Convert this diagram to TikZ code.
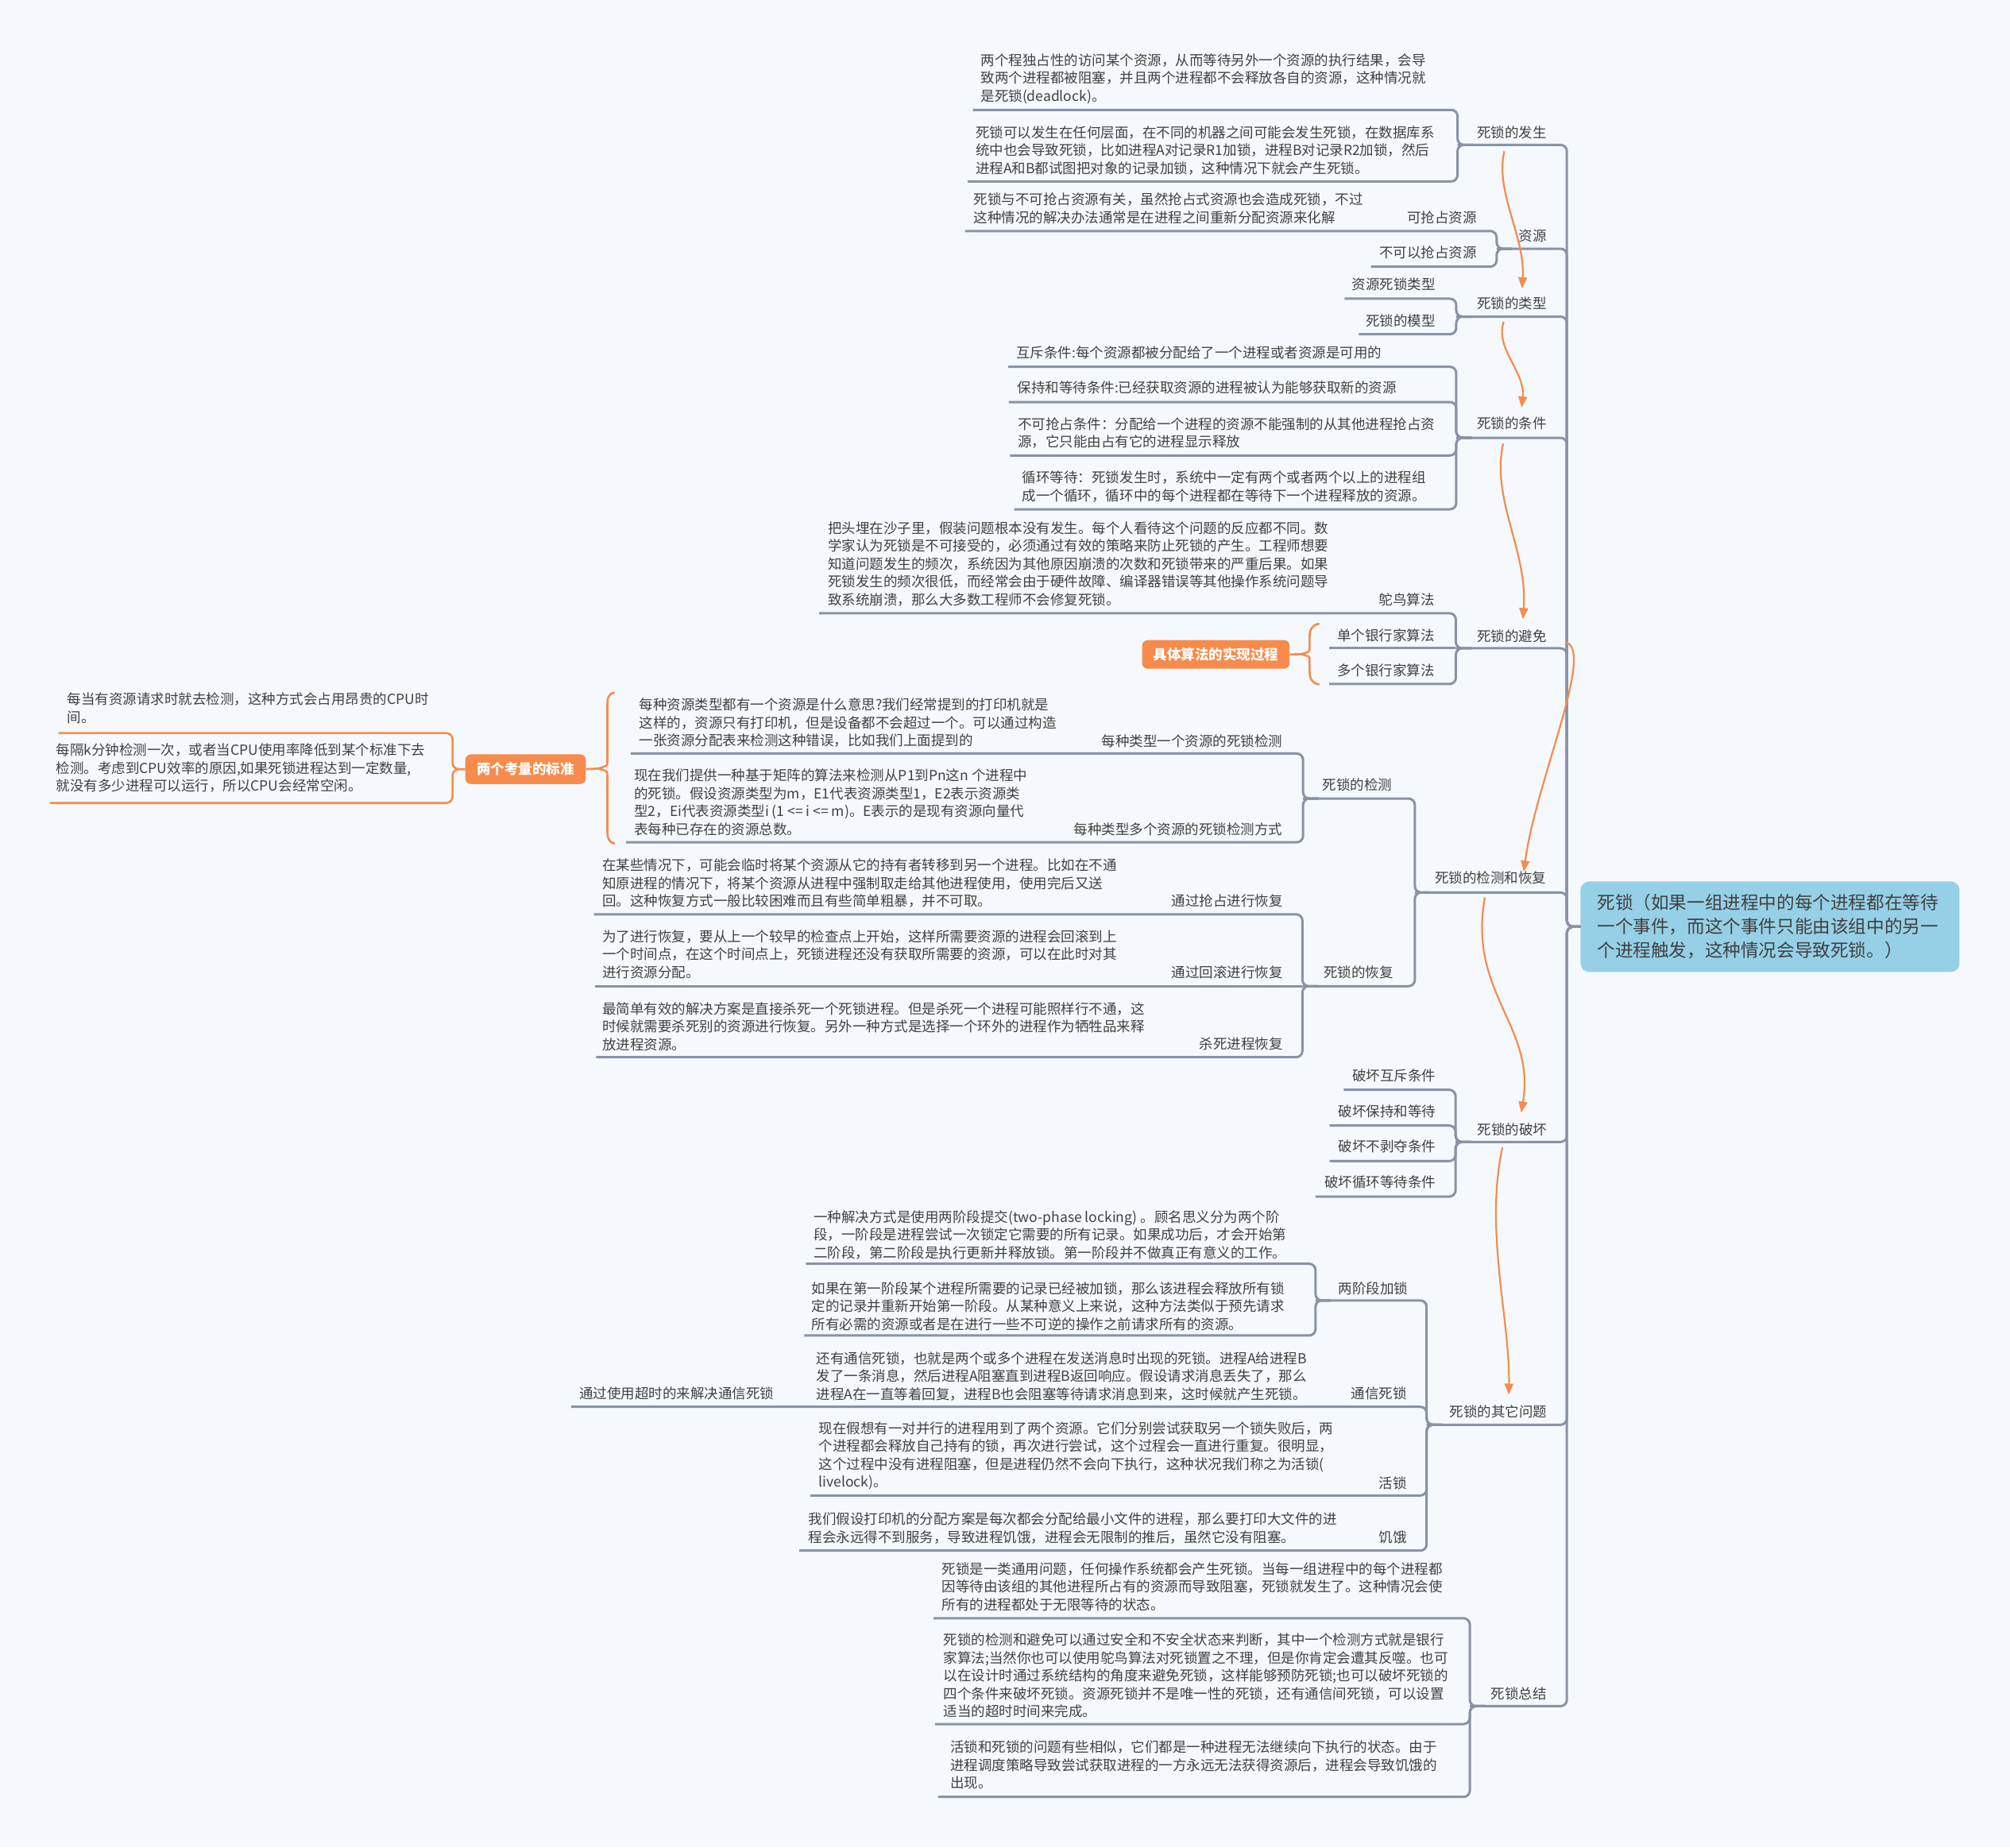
\documentclass[tikz,border=0pt]{standalone}
\usepackage{fontspec}
\newfontfamily\cjk{Noto Sans CJK SC}
\usetikzlibrary{arrows.meta}
\definecolor{bgc}{HTML}{F5F9FD}
\definecolor{lnc}{HTML}{8A93A5}
\definecolor{txc}{HTML}{404040}
\definecolor{ogc}{HTML}{F78B4C}
\definecolor{rtc}{HTML}{96D0E6}
\tikzset{
  txt/.style={font=\cjk\fontsize{17.5pt}{22.5pt}\selectfont, text=txc, inner sep=0pt, align=left},
  lbl/.style={txt, anchor=east},
  para/.style={txt, anchor=west},
  br/.style={draw=lnc, line width=3pt, rounded corners=8pt},
  sbr/.style={draw=lnc, line width=3pt},
  obr/.style={draw=ogc, line width=2.6pt, rounded corners=8pt},
  obrace/.style={draw=ogc, line width=2.6pt},
  flow/.style={draw=ogc, line width=2.2pt, -{Triangle[length=14pt,width=11pt]}},
  obox/.style={fill=ogc, text=white, font=\cjk\bfseries\fontsize{17.5pt}{21pt}\selectfont, rounded corners=7pt, inner sep=0pt},
  rootbox/.style={fill=rtc, rounded corners=11pt, text=txc, font=\cjk\fontsize{22.6pt}{30pt}\selectfont, text width=435pt, align=left, inner xsep=21pt, inner ysep=0pt, minimum height=114pt}
}
\begin{document}
\begin{tikzpicture}[x=1.6135pt,y=-1.6135pt]
\fill[bgc] (0,0) rectangle (1568,1441);
\useasboundingbox (0,0) rectangle (1568,1441);

% ---------- root ----------
\node[rootbox] (root) at (1380.8,722.9) {死锁（如果一组进程中的每个进程都在等待\\一个事件，而这个事件只能由该组中的另一\\个进程触发，这种情况会导致死锁。）};
\coordinate (sp) at (1222.3,722.9);

% ---------- junctions ----------
\coordinate (JA) at (1137,113);
\coordinate (JB) at (1167.5,194);
\coordinate (JC) at (1136,247);
\coordinate (JD) at (1136,341.5);
\coordinate (JE) at (1135.7,505.7);
\coordinate (JF) at (1103.7,696.2);
\coordinate (JF1) at (1016.5,622.9);
\coordinate (JF2) at (1016,769.3);
\coordinate (JG) at (1135.5,890.8);
\coordinate (JH) at (1112.9,1111.4);
\coordinate (JH1) at (1026.2,1014.4);
\coordinate (JI) at (1146.6,1330.9);

% ---------- underline left ends ----------
\coordinate (uA1) at (759,85.7);
\coordinate (uA2) at (755,141.5);
\coordinate (uB1) at (753,180.2);
\coordinate (uB2) at (1069.4,208);
\coordinate (uC1) at (1048.8,233);
\coordinate (uC2) at (1060,260.7);
\coordinate (uD1) at (786.4,286.1);
\coordinate (uD2) at (787,313.6);
\coordinate (uD3) at (787.9,355.3);
\coordinate (uD4) at (791.2,397.3);
\coordinate (uE1) at (639,478.3);
\coordinate (uE2) at (1037,505.7);
\coordinate (uE3) at (1037,533.6);
\coordinate (uF1a) at (492,587.8);
\coordinate (uF1b) at (488.3,657);
\coordinate (uF2a) at (463.4,713.2);
\coordinate (uF2b) at (464,769.3);
\coordinate (uF2c) at (465,824.7);
\coordinate (uG1) at (1048.3,850.1);
\coordinate (uG2) at (1037.3,878);
\coordinate (uG3) at (1037.3,905.7);
\coordinate (uG4) at (1026.2,933.4);
\coordinate (uH2) at (445.6,1097.4);
\coordinate (uH3) at (632,1166.6);
\coordinate (uH4) at (623.5,1209.6);
\coordinate (uH1a) at (628.7,985.8);
\coordinate (uH1b) at (627.4,1041.8);
\coordinate (uI1) at (728.3,1262.3);
\coordinate (uI2) at (729.4,1344.9);
\coordinate (uI3) at (731.8,1401.7);

% ---------- spine ----------
\foreach \j in {JA,JB,JC,JD,JE,JF,JG,JH,JI}
  \draw[br] (\j) -- (\j -| sp) -- (sp) -- (root.west);

% ---------- child connectors ----------
\foreach \c/\j in {uA1/JA,uA2/JA,uB1/JB,uB2/JB,uC1/JC,uC2/JC,uD1/JD,uD2/JD,uD3/JD,uD4/JD,uE1/JE,uE3/JE,JF1/JF,JF2/JF,uF1a/JF1,uF1b/JF1,uF2a/JF2,uF2c/JF2,uG1/JG,uG2/JG,uG3/JG,uG4/JG,JH1/JH,uH2/JH,uH3/JH,uH4/JH,uH1a/JH1,uH1b/JH1,uI1/JI,uI2/JI,uI3/JI}
  \draw[br] (\c) -- (\c -| \j) -- (\j) -- ++(12,0);
\draw[sbr] (uE2) -- (JE);
\draw[sbr] (uF2b) -- (JF2);

% ---------- main labels ----------
\node[lbl] (lA) at (1206.7,103.3) {死锁的发生};
\node[lbl] (lB) at (1206.7,184) {资源};
\node[lbl] (lC) at (1206.7,236.5) {死锁的类型};
\node[lbl] (lD) at (1206.7,330.5) {死锁的条件};
\node[lbl] (lE) at (1206.6,496.4) {死锁的避免};
\node[lbl] (lF) at (1206.3,684.8) {死锁的检测和恢复};
\node[lbl] (lG) at (1207,881) {死锁的破坏};
\node[lbl] (lH) at (1207,1101) {死锁的其它问题};
\node[lbl] (lI) at (1206.7,1321.2) {死锁总结};

% ---------- 死锁的发生 ----------
\node[para] (pA1) at (765,61.45) {两个程独占性的访问某个资源，从而等待另外一个资源的执行结果，会导\\致两个进程都被阻塞，并且两个进程都不会释放各自的资源，这种情况就\\是死锁(deadlock)。};
\node[para] (pA2) at (761,117.25) {死锁可以发生在任何层面，在不同的机器之间可能会发生死锁，在数据库系\\统中也会导致死锁，比如进程A对记录R1加锁，进程B对记录R2加锁，然后\\进程A和B都试图把对象的记录加锁，这种情况下就会产生死锁。};

% ---------- 资源 ----------
\node[para] (pB1) at (759.5,162.7) {死锁与不可抢占资源有关，虽然抢占式资源也会造成死锁，不过\\这种情况的解决办法通常是在进程之间重新分配资源来化解};
\node[lbl] (lB1) at (1152,169.4) {可抢占资源};
\node[lbl] (lB2) at (1152,197) {不可以抢占资源};

% ---------- 死锁的类型 ----------
\node[lbl] (lC1) at (1120,222) {资源死锁类型};
\node[lbl] (lC2) at (1120,250) {死锁的模型};

% ---------- 死锁的条件 ----------
\node[para] (pD1) at (792.7,275.2) {互斥条件:每个资源都被分配给了一个进程或者资源是可用的};
\node[para] (pD2) at (793.5,302.6) {保持和等待条件:已经获取资源的进程被认为能够获取新的资源};
\node[para] (pD3) at (794,337.75) {不可抢占条件：分配给一个进程的资源不能强制的从其他进程抢占资\\源，它只能由占有它的进程显示释放};
\node[para] (pD4) at (797.5,379.6) {循环等待：死锁发生时，系统中一定有两个或者两个以上的进程组\\成一个循环，循环中的每个进程都在等待下一个进程释放的资源。};

% ---------- 死锁的避免 ----------
\node[para] (pE1) at (645.7,440) {把头埋在沙子里，假装问题根本没有发生。每个人看待这个问题的反应都不同。数\\学家认为死锁是不可接受的，必须通过有效的策略来防止死锁的产生。工程师想要\\知道问题发生的频次，系统因为其他原因崩溃的次数和死锁带来的严重后果。如果\\死锁发生的频次很低，而经常会由于硬件故障、编译器错误等其他操作系统问题导\\致系统崩溃，那么大多数工程师不会修复死锁。};
\node[lbl] (lE1) at (1119.3,467.9) {鸵鸟算法};
\node[lbl] (lE2) at (1119.3,495.4) {单个银行家算法};
\node[lbl] (lE3) at (1119.3,523.1) {多个银行家算法};
\node[obox, minimum width=185.6pt, minimum height=36pt] (jb) at (948.5,510.5) {具体算法的实现过程};
\coordinate (jtip) at (1014.5,510.3);
\draw[obrace] (jb.east) -- (jtip);
\draw[obrace] (1029.2,486.5) .. controls (1023.5,487.5) and (1021.6,491) .. (1021.6,497) -- (1021.6,505.5) .. controls (1021.6,508.5) .. (jtip) .. controls (1021.6,512) .. (1021.6,515) -- (1021.6,523.5) .. controls (1021.6,529.5) and (1023.5,533) .. (1029.2,534);

% ---------- 死锁的检测 ----------
\node[lbl] (lF1) at (1086,612.5) {死锁的检测};
\node[para] (pF1a) at (498.5,563.75) {每种资源类型都有一个资源是什么意思?我们经常提到的打印机就是\\这样的，资源只有打印机，但是设备都不会超过一个。可以通过构造\\一张资源分配表来检测这种错误，比如我们上面提到的};
\node[lbl] (lF1a) at (1000.6,578) {每种类型一个资源的死锁检测};
\node[para] (pF1b) at (494.7,625.95) {现在我们提供一种基于矩阵的算法来检测从P1到Pn这n 个进程中\\的死锁。假设资源类型为m，E1代表资源类型1，E2表示资源类\\型2，Ei代表资源类型i (1 <= i <= m)。E表示的是现有资源向量代\\表每种已存在的资源总数。};
\node[lbl] (lF1b) at (1000.6,646.6) {每种类型多个资源的死锁检测方式};

% 两个考量的标准
\node[obox, minimum width=151.7pt, minimum height=37.3pt] (kb) at (410,600) {两个考量的标准};
\coordinate (kv) at (353,600);
\coordinate (k1u) at (45.7,571.8);
\coordinate (k2u) at (39,626.4);
\draw[obr] (k1u) -- (k1u -| kv) -- (kv) -- (kb.west);
\draw[obr] (k2u) -- (k2u -| kv) -- (kv) -- (kb.west);
\node[para] (pK1) at (52.4,552.3) {每当有资源请求时就去检测，这种方式会占用昂贵的CPU时\\间。};
\node[para] (pK2) at (43.7,599.3) {每隔k分钟检测一次，或者当CPU使用率降低到某个标准下去\\检测。考虑到CPU效率的原因,如果死锁进程达到一定数量,\\就没有多少进程可以运行，所以CPU会经常空闲。};
\coordinate (ktip) at (466.5,599.5);
\draw[obrace] (kb.east) -- (ktip);
\draw[obrace] (479.5,540.2) .. controls (475,541) and (473.8,544) .. (473.8,550) -- (473.8,594) .. controls (473.8,597.5) .. (ktip) .. controls (473.8,601.5) .. (473.8,605) -- (473.8,648) .. controls (473.8,654) and (475,657.2) .. (479.5,658);

% ---------- 死锁的恢复 ----------
\node[lbl] (lF2) at (1087,758.2) {死锁的恢复};
\node[para] (pF2a) at (469.7,689.15) {在某些情况下，可能会临时将某个资源从它的持有者转移到另一个进程。比如在不通\\知原进程的情况下，将某个资源从进程中强制取走给其他进程使用，使用完后又送\\回。这种恢复方式一般比较困难而且有些简单粗暴，并不可取。};
\node[lbl] (lF2a) at (1001,702.8) {通过抢占进行恢复};
\node[para] (pF2b) at (469.7,744.45) {为了进行恢复，要从上一个较早的检查点上开始，这样所需要资源的进程会回滚到上\\一个时间点，在这个时间点上，死锁进程还没有获取所需要的资源，可以在此时对其\\进行资源分配。};
\node[lbl] (lF2b) at (1001,758.6) {通过回滚进行恢复};
\node[para] (pF2c) at (469.7,800.75) {最简单有效的解决方案是直接杀死一个死锁进程。但是杀死一个进程可能照样行不通，这\\时候就需要杀死别的资源进行恢复。另外一种方式是选择一个环外的进程作为牺牲品来释\\放进程资源。};
\node[lbl] (lF2c) at (1001,814.4) {杀死进程恢复};

% ---------- 死锁的破坏 ----------
\node[lbl] (lG1) at (1120.3,838.8) {破坏互斥条件};
\node[lbl] (lG2) at (1120.3,867) {破坏保持和等待};
\node[lbl] (lG3) at (1120.3,894.5) {破坏不剥夺条件};
\node[lbl] (lG4) at (1120.3,922.4) {破坏循环等待条件};

% ---------- 死锁的其它问题 ----------
\node[lbl] (lH1) at (1098.4,1005) {两阶段加锁};
\node[para] (pH1a) at (634.8,963.25) {一种解决方式是使用两阶段提交(two-phase locking) 。顾名思义分为两个阶\\段，一阶段是进程尝试一次锁定它需要的所有记录。如果成功后，才会开始第\\二阶段，第二阶段是执行更新并释放锁。第一阶段并不做真正有意义的工作。};
\node[para] (pH1b) at (633,1019) {如果在第一阶段某个进程所需要的记录已经被加锁，那么该进程会释放所有锁\\定的记录并重新开始第一阶段。从某种意义上来说，这种方法类似于预先请求\\所有必需的资源或者是在进行一些不可逆的操作之前请求所有的资源。};
\node[lbl] (lH2) at (1097.7,1087.1) {通信死锁};
\node[para] (pH2) at (636.8,1073.45) {还有通信死锁，也就是两个或多个进程在发送消息时出现的死锁。进程A给进程B\\发了一条消息，然后进程A阻塞直到进程B返回响应。假设请求消息丢失了，那么\\进程A在一直等着回复，进程B也会阻塞等待请求消息到来，这时候就产生死锁。};
\node[para] (pH2a) at (451.8,1087.1) {通过使用超时的来解决通信死锁};
\node[lbl] (lH3) at (1097.7,1156.9) {活锁};
\node[para] (pH3) at (638.6,1135.7) {现在假想有一对并行的进程用到了两个资源。它们分别尝试获取另一个锁失败后，两\\个进程都会释放自己持有的锁，再次进行尝试，这个过程会一直进行重复。很明显，\\这个过程中没有进程阻塞，但是进程仍然不会向下执行，这种状况我们称之为活锁(\\livelock)。};
\node[lbl] (lH4) at (1097.7,1199.3) {饥饿};
\node[para] (pH4) at (630.6,1192.05) {我们假设打印机的分配方案是每次都会分配给最小文件的进程，那么要打印大文件的进\\程会永远得不到服务，导致进程饥饿，进程会无限制的推后，虽然它没有阻塞。};

% ---------- 死锁总结 ----------
\node[para] (pI1) at (734.7,1237.65) {死锁是一类通用问题，任何操作系统都会产生死锁。当每一组进程中的每个进程都\\因等待由该组的其他进程所占有的资源而导致阻塞，死锁就发生了。这种情况会使\\所有的进程都处于无限等待的状态。};
\node[para] (pI2) at (736.1,1307.1) {死锁的检测和避免可以通过安全和不安全状态来判断，其中一个检测方式就是银行\\家算法;当然你也可以使用鸵鸟算法对死锁置之不理，但是你肯定会遭其反噬。也可\\以在设计时通过系统结构的角度来避免死锁，这样能够预防死锁;也可以破坏死锁的\\四个条件来破坏死锁。资源死锁并不是唯一性的死锁，还有通信间死锁，可以设置\\适当的超时时间来完成。};
\node[para] (pI3) at (741.3,1376.9) {活锁和死锁的问题有些相似，它们都是一种进程无法继续向下执行的状态。由于\\进程调度策略导致尝试获取进程的一方永远无法获得资源后，进程会导致饥饿的\\出现。};

% ---------- orange flow arrows ----------
\coordinate (f1s) at (1173.5,118);   \coordinate (f1e) at (1187.3,225);
\coordinate (f2s) at (1173,251);     \coordinate (f2e) at (1187,318);
\coordinate (f3s) at (1172.6,346);   \coordinate (f3e) at (1188,483);
\coordinate (f4s) at (1221,500.8);   \coordinate (f4e) at (1188.7,680);
\coordinate (f5s) at (1158.3,700);   \coordinate (f5e) at (1186.7,868);
\coordinate (f6s) at (1172,895);     \coordinate (f6e) at (1177,1088);
\draw[flow] (f1s) .. controls (1166,150) and (1190,185) .. (f1e);
\draw[flow] (f2s) .. controls (1166,272) and (1190,290) .. (f2e);
\draw[flow] (f3s) .. controls (1163,390) and (1192,430) .. (f3e);
\draw[flow] (f4s) .. controls (1245,506) and (1198,610) .. (f4e);
\draw[flow] (f5s) .. controls (1145,775) and (1198,800) .. (f5e);
\draw[flow] (f6s) .. controls (1158,960) and (1178,1030) .. (f6e);
\end{tikzpicture}
\end{document}
